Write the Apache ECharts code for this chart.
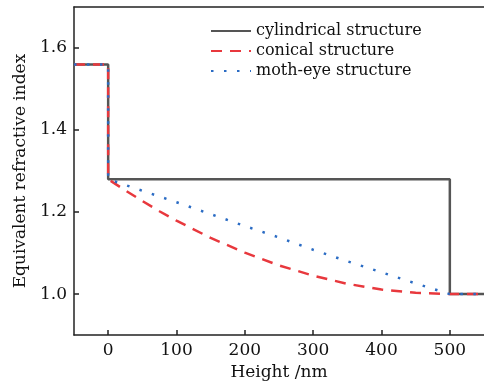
<!DOCTYPE html>
<html><head><meta charset="utf-8">
<script src="https://cdn.jsdelivr.net/npm/echarts@6/dist/echarts.min.js"></script>
<style>html,body{margin:0;padding:0;background:#fff}#c{width:484px;height:386px}</style>
</head><body><div id="c"></div>
<script>
const seriesNames = ['cylindrical structure', 'conical structure', 'moth-eye structure'];
const cylX = [-50, 0, 0, 500, 500, 550];
const cylY = [1.56, 1.56, 1.28, 1.28, 1.0, 1.0];
const conX = [-50, 0, 0, 25, 50, 75, 100, 150, 200, 250, 300, 350, 400, 450, 500, 550];
const conY = [1.56, 1.56, 1.28, 1.253, 1.227, 1.202, 1.179, 1.137, 1.101, 1.070, 1.045, 1.025, 1.011, 1.003, 1.0, 1.0];
const mothX = [-50, 0, 0, 50, 100, 150, 200, 250, 300, 350, 400, 450, 500, 550];
const mothY = [1.56, 1.56, 1.28, 1.252, 1.224, 1.195, 1.166, 1.138, 1.108, 1.080, 1.053, 1.026, 1.0, 1.0];
const xTicks = [0, 100, 200, 300, 400, 500];
const yTicks = [1.0, 1.2, 1.4, 1.6];

const pair = (xs, ys) => xs.map((x, i) => [x, ys[i]]);
const font = '"DejaVu Serif", "Liberation Serif", serif';
const axisCol = '#222';
const chart = echarts.init(document.getElementById('c'), null, {renderer: 'canvas'});
chart.setOption({
  animation: false,
  backgroundColor: '#fff',
  grid: {left: 74, top: 7, right: -3, bottom: 46, show: false},
  legend: {
    orient: 'vertical', left: 205, top: 18, itemWidth: 40, itemHeight: 14, itemGap: 4,
    textStyle: {fontFamily: font, fontSize: 16, color: '#111'},
    itemStyle: {opacity: 0},
    data: seriesNames
  },
  xAxis: [{
    type: 'value', min: -50, max: 550,
    name: 'Height /nm', nameLocation: 'middle', nameGap: 26,
    nameTextStyle: {fontFamily: font, fontSize: 17, color: '#111'},
    axisLine: {show: true, onZero: false, lineStyle: {color: axisCol, width: 1.5}},
    axisTick: {show: true, inside: true, length: 5, customValues: xTicks, lineStyle: {color: axisCol, width: 1.5}},
    axisLabel: {customValues: xTicks, fontFamily: font, fontSize: 17, color: '#111', margin: 7},
    splitLine: {show: false}
  }, {
    type: 'value', min: -50, max: 550, position: 'top',
    axisLine: {show: true, onZero: false, lineStyle: {color: axisCol, width: 1.5}},
    axisTick: {show: false}, axisLabel: {show: false}, splitLine: {show: false}
  }],
  yAxis: {
    type: 'value', min: 0.9, max: 1.7,
    name: 'Equivalent refractive index', nameLocation: 'middle', nameGap: 44,
    nameTextStyle: {fontFamily: font, fontSize: 17, color: '#111'},
    axisLine: {show: true, onZero: false, lineStyle: {color: axisCol, width: 1.5}},
    axisTick: {show: true, inside: true, length: 5, customValues: yTicks, lineStyle: {color: axisCol, width: 1.5}},
    axisLabel: {customValues: yTicks, formatter: v => v.toFixed(1), fontFamily: font, fontSize: 17, color: '#111', margin: 7},
    splitLine: {show: false}
  },
  series: [
    {name: seriesNames[0], type: 'line', data: pair(cylX, cylY), symbol: 'none', color: '#555555',
     lineStyle: {color: '#555555', width: 2.5, type: 'solid'}},
    {name: seriesNames[1], type: 'line', data: pair(conX, conY), symbol: 'none', color: '#e8383d',
     lineStyle: {color: '#e8383d', width: 2.5, type: [11, 8]}},
    {name: seriesNames[2], type: 'line', data: pair(mothX, mothY), symbol: 'none', color: '#2b6cc4',
     lineStyle: {color: '#2b6cc4', width: 2.5, type: [2.5, 10.5]}}
  ]
});
</script></body></html>
